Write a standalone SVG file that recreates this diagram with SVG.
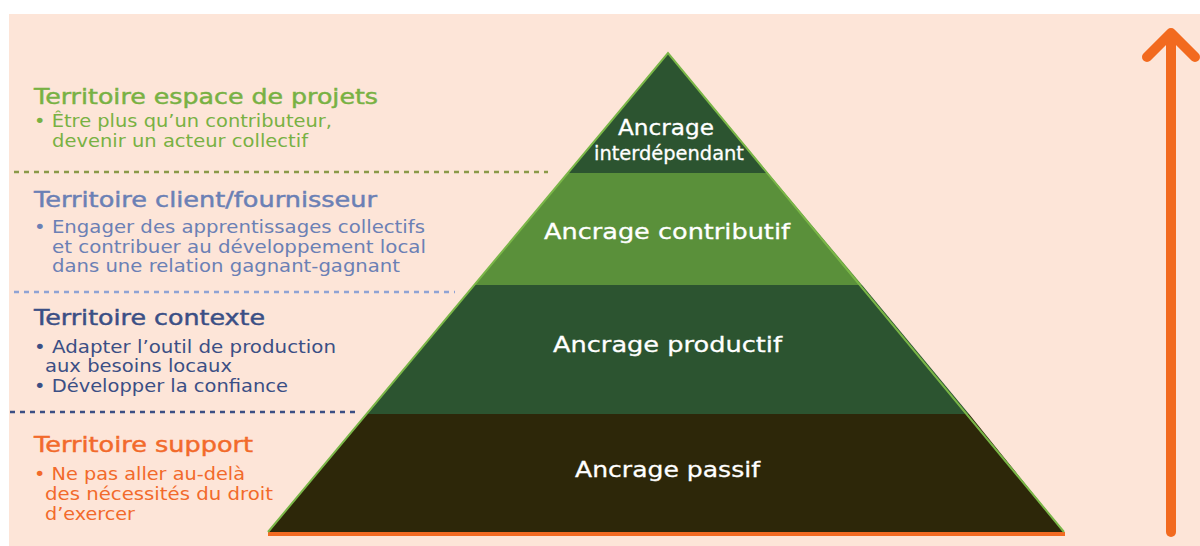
<svg xmlns="http://www.w3.org/2000/svg" width="1200" height="546" viewBox="0 0 1200 546">
<style>
text{font-family:"DejaVu Sans","Liberation Sans",sans-serif}
.t{font-size:21px;stroke-width:0.45;paint-order:stroke}
.b{font-size:17px}
.w{font-size:22px;fill:#ffffff;stroke:#ffffff;stroke-width:0.3}
.dash{stroke-width:2.5;stroke-dasharray:5 5;fill:none}
</style>
<rect x="0" y="0" width="1200" height="546" fill="#ffffff"/>
<rect x="9" y="14" width="1191" height="532" fill="#fde5d8"/>
<g id="separators">
<line class="dash" x1="14" y1="172" x2="548" y2="172" stroke="#8a9a48"/>
<line class="dash" x1="14" y1="292" x2="455" y2="292" stroke="#8fa3d4"/>
<line class="dash" x1="10" y1="412" x2="356" y2="412" stroke="#3b4f85"/>
</g>
<g id="pyramid">
<line x1="268" y1="534" x2="1065" y2="534" stroke="#f26a22" stroke-width="4"/>
<g id="level-passif">
<polygon points="367,414 969,414 1064,532 268,532" fill="#2d2709"/>
<text class="w" x="575" y="477" textLength="185" lengthAdjust="spacingAndGlyphs">Ancrage passif</text>
</g>
<g id="level-productif">
<polygon points="474,285 862,285 969,414 367,414" fill="#2c5430"/>
<text class="w" x="553" y="352" textLength="229" lengthAdjust="spacingAndGlyphs">Ancrage productif</text>
</g>
<g id="level-contributif">
<polygon points="568,173 768,173 862,285 474,285" fill="#5a903a"/>
<text class="w" x="544" y="239" textLength="246" lengthAdjust="spacingAndGlyphs">Ancrage contributif</text>
</g>
<g id="level-interdependant">
<polygon points="668,53 768,173 568,173" fill="#2c5430"/>
<text class="w" x="618" y="135" style="font-size:21px" textLength="96" lengthAdjust="spacingAndGlyphs">Ancrage</text>
<text class="w" x="594" y="160" style="font-size:20px" textLength="150" lengthAdjust="spacingAndGlyphs">interdépendant</text>
</g>
<polyline points="268,532 668,53 1064,532" fill="none" stroke="#7ab648" stroke-width="2"/>
</g>
<g id="sec-projets" fill="#78b143" stroke="#78b143">
<text class="t" x="34" y="104" textLength="344" lengthAdjust="spacingAndGlyphs">Territoire espace de projets</text>
<text class="b" x="34" y="127" stroke="none" textLength="298" lengthAdjust="spacingAndGlyphs">• Être plus qu’un contributeur,</text>
<text class="b" x="52" y="147" stroke="none" textLength="256" lengthAdjust="spacingAndGlyphs">devenir un acteur collectif</text>
</g>
<g id="sec-client" fill="#6b80b5" stroke="#6b80b5">
<text class="t" x="34" y="207" textLength="343" lengthAdjust="spacingAndGlyphs">Territoire client/fournisseur</text>
<text class="b" x="34" y="233" stroke="none" textLength="391" lengthAdjust="spacingAndGlyphs">• Engager des apprentissages collectifs</text>
<text class="b" x="52" y="253" stroke="none" textLength="374" lengthAdjust="spacingAndGlyphs">et contribuer au développement local</text>
<text class="b" x="52" y="272" stroke="none" textLength="348" lengthAdjust="spacingAndGlyphs">dans une relation gagnant-gagnant</text>
</g>
<g id="sec-contexte" fill="#3b4f85" stroke="#3b4f85">
<text class="t" x="34" y="325" textLength="231" lengthAdjust="spacingAndGlyphs">Territoire contexte</text>
<text class="b" x="34" y="353" stroke="none" textLength="302" lengthAdjust="spacingAndGlyphs">• Adapter l’outil de production</text>
<text class="b" x="45" y="372" stroke="none" textLength="187" lengthAdjust="spacingAndGlyphs">aux besoins locaux</text>
<text class="b" x="34" y="392" stroke="none" textLength="254" lengthAdjust="spacingAndGlyphs">• Développer la confiance</text>
</g>
<g id="sec-support" fill="#f26a2b" stroke="#f26a2b">
<text class="t" x="34" y="452" textLength="219" lengthAdjust="spacingAndGlyphs">Territoire support</text>
<text class="b" x="34" y="480" stroke="none" textLength="211" lengthAdjust="spacingAndGlyphs">• Ne pas aller au-delà</text>
<text class="b" x="45" y="500" stroke="none" textLength="228" lengthAdjust="spacingAndGlyphs">des nécessités du droit</text>
<text class="b" x="45" y="520" stroke="none" textLength="90" lengthAdjust="spacingAndGlyphs">d’exercer</text>
</g>
<g id="connectors">
<g id="arrow" stroke="#f26a1f" stroke-width="10" stroke-linecap="round" stroke-linejoin="round" fill="none">
<line x1="1171" y1="36" x2="1171" y2="532"/>
<polyline points="1147,57 1171,33 1195,57"/>
</g>
</g>
</svg>
